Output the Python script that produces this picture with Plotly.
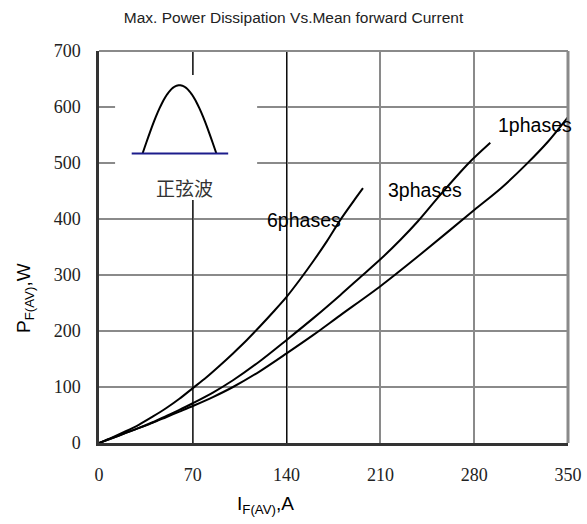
import numpy as np
import plotly.graph_objects as go

# ---- data ----
x_6ph = [0, 10, 20, 30, 40, 50, 60, 70, 80, 90, 100, 110, 120, 130, 140, 150, 160, 170, 180, 190, 197]
y_6ph = [0, 10, 21, 33, 47, 62, 79, 98, 117, 138, 160, 183, 208, 234, 261, 292, 325, 360, 398, 432, 455]

x_3ph = [0, 10, 20, 30, 40, 50, 60, 70, 85, 100, 120, 140, 160, 180, 195, 210, 225, 238, 255, 276, 292]
y_3ph = [0, 9, 18, 27, 37, 48, 59, 71, 90, 112, 146, 184, 223, 264, 296, 328, 363, 396, 444, 500, 536]

x_1ph = [0, 10, 20, 30, 40, 50, 60, 70, 85, 100, 120, 140, 160, 180, 210, 240, 280, 300, 319, 335, 350]
y_1ph = [0, 9, 18, 27, 36, 46, 56, 66, 82, 100, 128, 160, 193, 228, 280, 337, 416, 455, 498, 538, 582]

x_ticks = [0, 70, 140, 210, 280, 350]
y_ticks = [0, 100, 200, 300, 400, 500, 600, 700]

series = [("6phases", x_6ph, y_6ph), ("3phases", x_3ph, y_3ph), ("1phases", x_1ph, y_1ph)]
label_pos = {"6phases": (153, 398), "3phases": (243, 452), "1phases": (325, 568)}

fig = go.Figure()
for name, xs, ys in series:
    fig.add_trace(go.Scatter(x=xs, y=ys, mode="lines", name=name,
                             line=dict(color="black", width=2, shape="spline", smoothing=0.8),
                             showlegend=False, hoverinfo="skip"))

for name, (lx, ly) in label_pos.items():
    fig.add_annotation(x=lx, y=ly, text=name, showarrow=False, xref="x", yref="y",
                       font=dict(family="Liberation Sans", size=19.5, color="black"))

shapes = []
for xv in (70, 140):
    shapes.append(dict(type="line", xref="x", yref="y", x0=xv, x1=xv, y0=0, y1=700,
                       line=dict(color="black", width=1), layer="between"))
shapes.append(dict(type="rect", xref="x", yref="y", x0=12, x1=118, y0=434, y1=657,
                   fillcolor="white", line=dict(width=0), layer="between"))
shapes.append(dict(type="line", xref="paper", yref="paper", x0=0, x1=1, y0=1, y1=1,
                   line=dict(color="#8a8a8a", width=2)))
shapes.append(dict(type="line", xref="paper", yref="paper", x0=1, x1=1, y0=0, y1=1,
                   line=dict(color="#8a8a8a", width=3)))

# inset: half sine-wave icon
t = np.linspace(0, np.pi, 40)
hx = 32.5 + (87.6 - 32.5) * t / np.pi
hy = 517 + (639 - 517) * np.sin(t)
path = "M " + " L ".join(f"{a:.2f},{b:.2f}" for a, b in zip(hx, hy))
shapes.append(dict(type="path", xref="x", yref="y", path=path,
                   line=dict(color="black", width=2), layer="above"))
shapes.append(dict(type="line", xref="x", yref="y", x0=24.4, x1=96.4, y0=517, y1=517,
                   line=dict(color="#1c1c8c", width=2), layer="above"))
fig.add_annotation(x=63.7, y=456, text="正弦波", showarrow=False, xref="x", yref="y",
                   font=dict(family="Noto Sans CJK SC", size=19, color="#333333"))

fig.update_layout(
    width=587, height=524, autosize=False,
    margin=dict(l=99, r=19, t=51, b=81, autoexpand=False),
    paper_bgcolor="white", plot_bgcolor="white",
    shapes=shapes,
    title=dict(text="Max. Power Dissipation Vs.Mean forward Current", x=0.5, xref="container",
               y=1 - 18 / 524, yref="container", xanchor="center", yanchor="middle",
               font=dict(family="Liberation Sans", size=15.5, color="#222222")),
    xaxis=dict(range=[0, 350], tickvals=x_ticks, ticktext=[str(v) for v in x_ticks],
               showgrid=True, gridcolor="#8a8a8a", gridwidth=1.5, automargin=False,
               showline=True, linecolor="#333333", linewidth=2.5,
               ticks="", ticklabelstandoff=14, zeroline=False,
               tickfont=dict(family="Liberation Serif", size=18, color="#222222")),
    yaxis=dict(range=[0, 700], tickvals=y_ticks, ticktext=[str(v) for v in y_ticks],
               showgrid=True, gridcolor="#8a8a8a", gridwidth=1.5, automargin=False,
               showline=True, linecolor="#333333", linewidth=2.5,
               ticks="", ticklabelstandoff=12, zeroline=False,
               tickfont=dict(family="Liberation Serif", size=18, color="#222222")),
)

fig.add_annotation(x=(11 - 99) / 469, y=(443 - 298) / 392, xref="paper", yref="paper",
                   text="P<sub>F(AV)</sub>,W", textangle=-90, showarrow=False,
                   font=dict(family="Liberation Sans", size=19, color="black"))
fig.add_annotation(x=(265 - 99) / 469, y=(443 - 519) / 392, xref="paper", yref="paper",
                   text="I<sub>F(AV)</sub>,A", showarrow=False,
                   font=dict(family="Liberation Sans", size=19, color="black"))

fig.write_html("out.html", config={"responsive": False, "displayModeBar": False},
               post_script="document.body.style.margin='0';")
